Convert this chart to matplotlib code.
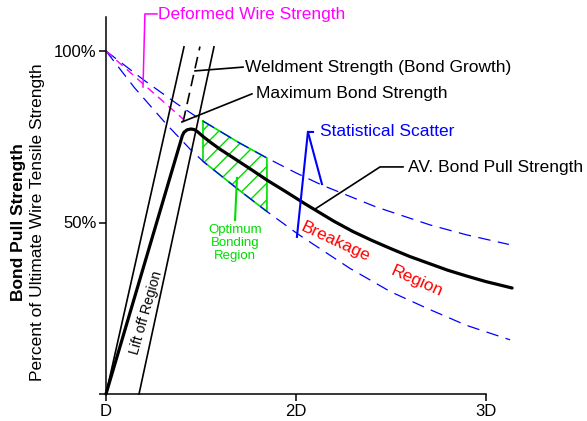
import matplotlib
matplotlib.use('Agg')
import matplotlib.pyplot as plt
import numpy as np

plt.rcParams['font.family'] = ['Liberation Sans', 'DejaVu Sans']
plt.rcParams['hatch.linewidth'] = 1.0

# ---- data (x in units of wire diameter D, y in % of ultimate wire tensile strength)
x_ticks = [1, 2, 3]
x_tick_labels = ['D', '2D', '3D']
y_ticks = [0, 50, 100]
y_tick_labels = ['', '50%', '100%']

av_x = [1.0, 1.4025, 1.4115, 1.4278, 1.4478, 1.4642, 1.4784, 1.513, 1.55, 1.60,
        1.65, 1.75, 1.85, 1.95, 2.05, 2.2, 2.3, 2.4, 2.5, 2.6, 2.7, 2.8, 2.9,
        3.0, 3.14]
av_y = [0.0, 75.36, 76.33, 77.03, 77.26, 77.11, 76.65, 75.0, 73.4, 71.4,
        69.6, 66.0, 62.3, 58.9, 55.4, 50.4, 47.4, 44.8, 42.4, 40.1, 38.1, 36.1, 34.4,
        32.8, 30.9]

upper_x = [1.0, 1.2, 1.374, 1.51, 1.70, 1.848, 2.0, 2.138, 2.42, 2.707, 2.9, 3.123]
upper_y = [100.0, 91.5, 84.6, 79.6, 73.3, 68.8, 64.5, 60.9, 54.6, 49.3, 46.4, 43.6]

lower_x = [1.0, 1.15, 1.321, 1.443, 1.516, 1.70, 1.848, 2.012, 2.286, 2.5, 2.707, 2.9, 3.129]
lower_y = [100.0, 89.3, 78.5, 71.4, 67.6, 59.5, 53.2, 46.6, 36.6, 29.8, 24.6, 20.0, 15.8]

deformed_x = [1.0, 1.2, 1.41]
deformed_y = [100.0, 90.2, 80.0]

weldment_x = [1.406, 1.495]
weldment_y = [79.3, 101.3]

liftoff_left_x = [1.0, 1.411]
liftoff_left_y = [0.0, 101.2]
liftoff_right_x = [1.174, 1.569]
liftoff_right_y = [0.0, 101.2]

optimum_range = [1.511, 1.848]

BLUE = '#0000ff'
MAG = '#ff00ff'
GREEN = '#00dd00'
RED = '#ff0000'
FS = 12.5

fig = plt.figure(figsize=(5.87, 4.21), dpi=100)
ax = fig.add_axes([106 / 587, 27 / 421, 427 / 587, 377.3 / 421])
ax.set_xlim(1, 3.25)
ax.set_ylim(0, 110)

for s in ['top', 'right']:
    ax.spines[s].set_visible(False)
ax.spines['bottom'].set_bounds(1, 3)
for s in ['left', 'bottom']:
    ax.spines[s].set_linewidth(1.1)

ax.set_xticks(x_ticks)
ax.set_xticklabels(x_tick_labels)
ax.set_yticks(y_ticks)
ax.set_yticklabels(y_tick_labels)
ax.tick_params(direction='out', length=5, width=1.1, labelsize=12, pad=2)

# optimum bonding region (hatched)
xf = np.array([optimum_range[0]] + [v for v in upper_x if optimum_range[0] < v < optimum_range[1]] + [optimum_range[1]])
uf = np.interp(xf, upper_x, upper_y)
lf = np.interp(xf, lower_x, lower_y)
ax.fill_between(xf, lf, uf, facecolor='none', edgecolor=GREEN, hatch='//', linewidth=0)
ax.plot(np.concatenate([xf, xf[::-1], xf[:1]]), np.concatenate([uf, lf[::-1], uf[:1]]),
        color=GREEN, lw=1.2)

# scatter bands
ax.plot(upper_x, upper_y, color=BLUE, lw=0.9, dashes=(10, 6), clip_on=False)
ax.plot(lower_x, lower_y, color=BLUE, lw=0.9, dashes=(10, 6), clip_on=False)
# deformed wire strength
ax.plot(deformed_x, deformed_y, color=MAG, lw=1.0, dashes=(6, 4), clip_on=False)

# lift off lines
ax.plot(liftoff_left_x, liftoff_left_y, color='black', lw=1.2, clip_on=False)
ax.plot(liftoff_right_x, liftoff_right_y, color='black', lw=1.2, clip_on=False)
ax.plot(weldment_x, weldment_y, color='black', lw=1.2, dashes=(7, 4), clip_on=False)

# average bond pull strength
ax.plot(av_x, av_y, color='black', lw=2.3, solid_joinstyle='round',
        solid_capstyle='round', clip_on=False)

# ---- annotations
ax.plot([1.269, 1.205, 1.195], [110.8, 110.8, 89.5], color=MAG, lw=1.1, clip_on=False)
ax.text(1.274, 110.6, 'Deformed Wire Strength', color=MAG, fontsize=FS, ha='left', va='center')

ax.plot([1.722, 1.469], [95.3, 94.2], color='black', lw=1.2, clip_on=False)
ax.text(1.732, 95.3, 'Weldment Strength (Bond Growth)', fontsize=FS, ha='left', va='center')

ax.plot([1.769, 1.400], [87.5, 79.3], color='black', lw=1.2, clip_on=False)
ax.text(1.790, 87.5, 'Maximum Bond Strength', fontsize=FS, ha='left', va='center')

ax.plot([2.091, 2.064, 2.138], [76.4, 76.4, 61.2], color=BLUE, lw=1.5, clip_on=False)
ax.plot([2.064, 2.006], [76.4, 45.8], color=BLUE, lw=1.5, clip_on=False)
ax.text(2.127, 76.4, 'Statistical Scatter', color=BLUE, fontsize=FS, ha='left', va='center')

ax.plot([2.565, 2.444, 2.101], [66.2, 66.2, 53.9], color='black', lw=1.2, clip_on=False)
ax.text(2.591, 66.0, 'AV. Bond Pull Strength', fontsize=FS, ha='left', va='center')

ax.plot([1.680, 1.690], [50.7, 63.0], color=GREEN, lw=1.5)
ax.text(1.680, 44.0, 'Optimum\nBonding\nRegion', color=GREEN, fontsize=9.5,
        ha='center', va='center', linespacing=1.15)

ax.text(1.211, 23.6, 'Lift off Region', fontsize=10, ha='center', va='center',
        rotation=74, rotation_mode='anchor')
ax.text(2.207, 44.3, 'Breakage', color=RED, fontsize=FS, ha='center', va='center',
        rotation=-25, rotation_mode='anchor')
ax.text(2.639, 32.7, 'Region', color=RED, fontsize=FS, ha='center', va='center',
        rotation=-24, rotation_mode='anchor')

fig.text(19 / 587, 0.473, 'Bond Pull Strength', fontsize=FS, fontweight='bold',
         rotation=90, ha='center', va='center')
fig.text(38 / 587, 0.473, 'Percent of Ultimate Wire Tensile Strength', fontsize=FS,
         rotation=90, ha='center', va='center')

fig.savefig('out.png', dpi=100)
